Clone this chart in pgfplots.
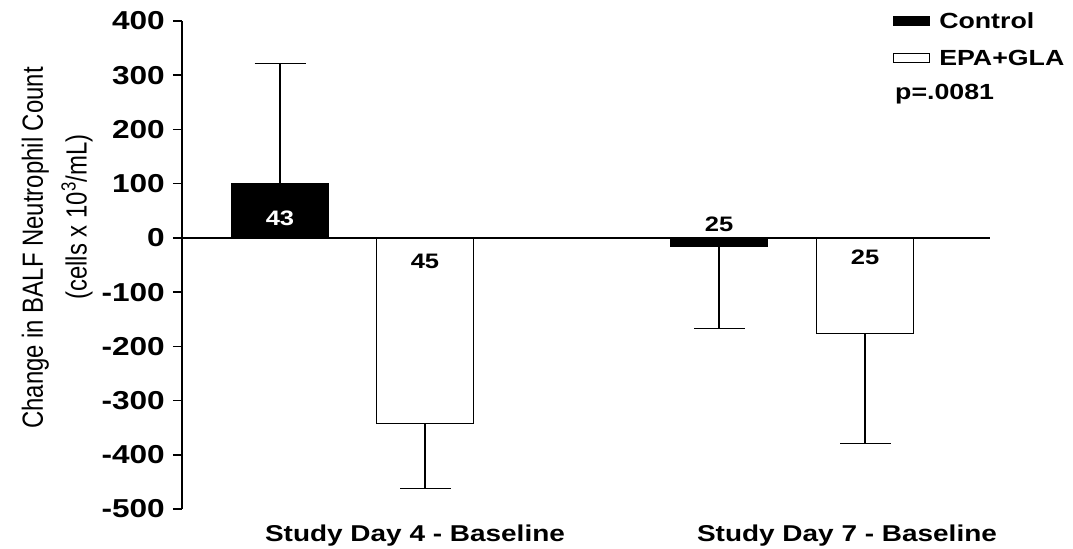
\documentclass[border=0pt]{standalone}
\usepackage{graphicx}
\usepackage{fontspec}
\setmainfont{Liberation Sans}[FakeStretch=1.22]
\newfontfamily\plainfont{Liberation Sans}
\usepackage{pgfplots}
\pgfplotsset{compat=1.18}
\begin{document}
\begin{tikzpicture}
\useasboundingbox (0bp,0bp) rectangle (1073bp,549bp);
\begin{axis}[
  at={(182bp,40bp)}, anchor=south west,
  scale only axis, width=808bp, height=488bp,
  xmin=182, xmax=990, ymin=-500, ymax=400,
  clip=false,
  axis x line*=bottom, axis y line*=left,
  x axis line style={draw=none},
  y axis line style={line width=1.8bp},
  xtick={415,847},
  xticklabels={Study Day 4 - Baseline, Study Day 7 - Baseline},
  x tick style={draw=none},
  xticklabel style={font=\bfseries\fontsize{23}{23}\selectfont, inner sep=0pt, anchor=north, yshift=-7bp},
  ytick={-500,-400,-300,-200,-100,0,100,200,300,400},
  yticklabels={-500,-400,-300,-200,-100,0,100,200,300,400},
  yticklabel style={font=\bfseries\fontsize{26}{26}\selectfont, inner sep=0pt, anchor=east, xshift=-8bp},
  tick align=outside,
  major tick length=9bp,
  y tick style={line width=1.5bp, black},
  ylabel={\scalebox{1}[1.22]{\plainfont\fontsize{24}{36}\selectfont\begin{tabular}{@{}c@{}}Change in BALF Neutrophil Count\\ \hspace*{62bp}(cells x 10\textsuperscript{3}/mL)\end{tabular}}},
  ylabel style={at={(axis description cs:-0.156,0.535)}, anchor=center},
  legend style={at={(axis description cs:0.88,1.018)}, anchor=north west, draw=none, fill=none,
    font=\bfseries\fontsize{22}{22}\selectfont, inner sep=0pt, row sep=20bp, column sep=9bp,
    nodes={inner sep=0pt}},
  legend cell align=left,
  mylegend/.style={legend image code/.code={\draw[##1, line width=1bp] (0bp,-4.5bp) rectangle (36bp,4.5bp);}},
]
\addplot[ybar, bar width=97, bar shift=0pt, fill=black, draw=black, line width=1.3bp, mylegend,
  error bars/.cd, y dir=both, y explicit, error mark=|,
  error mark options={mark size=25.5bp, line width=1.2bp, black},
  error bar style={line width=1.2bp, black}]
  coordinates {(280,100) += (0,222) -= (0,0) (719,-15) += (0,0) -= (0,152)};
\addlegendentry{Control}
\addplot[ybar, bar width=97, bar shift=0pt, fill=white, draw=black, line width=1.3bp, mylegend,
  error bars/.cd, y dir=both, y explicit, error mark=|,
  error mark options={mark size=25.5bp, line width=1.2bp, black},
  error bar style={line width=1.2bp, black}]
  coordinates {(425,-342) += (0,0) -= (0,120) (865,-176) += (0,0) -= (0,203)};
\addlegendentry{EPA+GLA}
\addplot[black, line width=1.8bp, forget plot] coordinates {(182,0) (990,0)};
\node[font=\bfseries\fontsize{21}{21}\selectfont, text=white] at (axis cs:280,36) {43};
\node[font=\bfseries\fontsize{21}{21}\selectfont] at (axis cs:425,-43) {45};
\node[font=\bfseries\fontsize{21}{21}\selectfont] at (axis cs:719,25) {25};
\node[font=\bfseries\fontsize{21}{21}\selectfont] at (axis cs:865,-36) {25};
\node[font=\bfseries\fontsize{22}{22}\selectfont, anchor=west, inner sep=0pt] at (axis cs:895,266) {p=.0081};
\end{axis}
\end{tikzpicture}
\end{document}
